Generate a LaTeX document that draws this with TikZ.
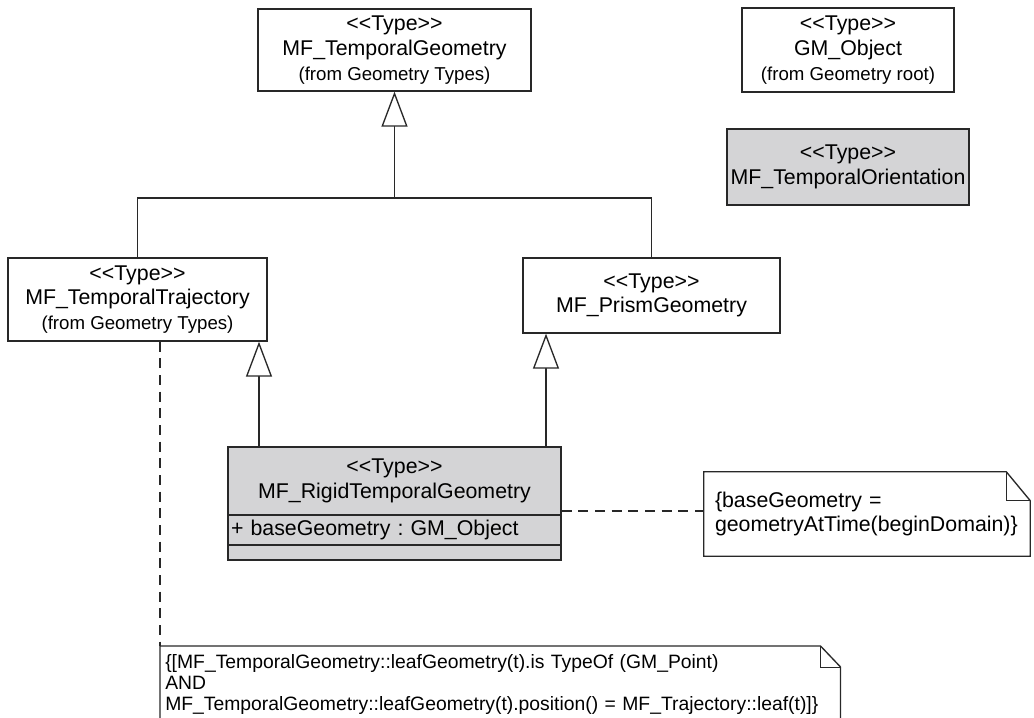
\documentclass[tikz,border=0pt]{standalone}
\usepackage{fontspec}
\setmainfont{Liberation Sans}
\usetikzlibrary{arrows.meta,calc}
\definecolor{linec}{RGB}{40,40,40}
\definecolor{greyf}{RGB}{212,212,214}
\newcommand\ltlt{<\kern0pt<}
\newcommand\gtgt{>\kern0pt>}
\newcommand\nmf{\fontsize{16}{18.5}\selectfont}
\newcommand\frf{\fontsize{14}{17}\selectfont}
\newcommand\ntf{\fontsize{14.5}{16}\selectfont}
\frenchspacing
\begin{document}
\begin{tikzpicture}[x=0.75pt,y=-0.75pt,
 cls/.style={draw=linec, line width=1pt, fill=white, inner sep=0pt, align=center, font=\nmf},
 gcls/.style={cls, fill=greyf},
 ln/.style={draw=linec, line width=1pt},
 gen/.style={ln, -{Triangle[open, length=26.25pt, width=19.5pt, fill=white]}},
 dsh/.style={draw=linec, line width=1pt, dash pattern=on 7.5pt off 5pt},
 notef/.style={draw=none, inner sep=0pt, align=left}]
\useasboundingbox (0,0) rectangle (1034,717);
\fill[white] (0,0) rectangle (1034,717);

\node[cls, minimum width=204.75pt, minimum height=61.5pt] (tg) at (394.5,50)
  {\ltlt Type\gtgt\\MF\_TemporalGeometry\\\frf(from Geometry Types)};
\node[cls, minimum width=159pt, minimum height=63pt] (gm) at (848,50)
  {\ltlt Type\gtgt\\GM\_Object\\\frf(from Geometry root)};
\node[gcls, minimum width=181.5pt, minimum height=57pt] (to) at (848,167)
  {\ltlt Type\gtgt\\MF\_TemporalOrientation};
\node[cls, minimum width=194.25pt, minimum height=62.25pt] (tt) at (137.5,299.5)
  {\ltlt Type\gtgt\\MF\_TemporalTrajectory\\\frf(from Geometry Types)};
\node[cls, minimum width=192.75pt, minimum height=56.25pt] (pg) at (651.5,295.5)
  {\ltlt Type\gtgt\\MF\_PrismGeometry};

\node[gcls, minimum width=249.75pt, minimum height=51pt] (rtn) at (394.5,481)
  {\ltlt Type\gtgt\\MF\_RigidTemporalGeometry};
\node[gcls, align=left, text width=245.25pt, inner xsep=2.25pt, minimum height=22.5pt] (rta) at (394.5,530)
  {+ baseGeometry : GM\_Object};
\node[gcls, minimum width=249.75pt, minimum height=11.25pt] (rte) at (394.5,552.5) {};

% right note
\node[notef, font=\nmf, text width=228pt, inner xsep=8.25pt, minimum height=63pt] (nr) at (867,514)
  {\{baseGeometry =\\geometryAtTime(beginDomain)\}};
\draw[ln] (nr.north west) -- ($(nr.north east)+(-24,0)$) -- ($(nr.north east)+(0,29)$)
  -- (nr.south east) -- (nr.south west) -- cycle;
\draw[ln, line width=0.6pt] ($(nr.north east)+(-24,0)$) -- ($(nr.north east)+(-24,29)$) -- ($(nr.north east)+(0,29)$);

% bottom note
\node[notef, font=\ntf, anchor=north west, text width=502.5pt, inner xsep=3.75pt, inner ysep=6pt] (nb) at (160,646)
  {\{[MF\_TemporalGeometry::leafGeometry(t).is TypeOf (GM\_Point)\\AND\\MF\_TemporalGeometry::leafGeometry(t).position() = MF\_Trajectory::leaf(t)]\}\\ \strut};
\draw[ln] (nb.south west) -- (nb.north west) -- ($(nb.north east)+(-20,0)$) -- ($(nb.north east)+(0,21)$) -- (nb.south east);
\draw[ln, line width=0.6pt] ($(nb.north east)+(-20,0)$) -- ($(nb.north east)+(-20,21)$) -- ($(nb.north east)+(0,21)$);

% connectors
\coordinate (hub) at (394.5,198);
\coordinate (xa) at (259,0);
\coordinate (xb) at (546,0);
\coordinate (ya) at (0,511);
\draw[ln] (tt.north) |- (hub) -| (pg.north);
\draw[gen] (hub) -- (tg.south);
\draw[gen] (rtn.north -| xa) -- (tt.south -| xa);
\draw[gen] (rtn.north -| xb) -- (pg.south -| xb);
\draw[dsh] (rtn.east |- ya) -- (nr.west |- ya);
\draw[dsh] (tt.south -| nb.north west) -- (nb.north west);
\end{tikzpicture}
\end{document}
